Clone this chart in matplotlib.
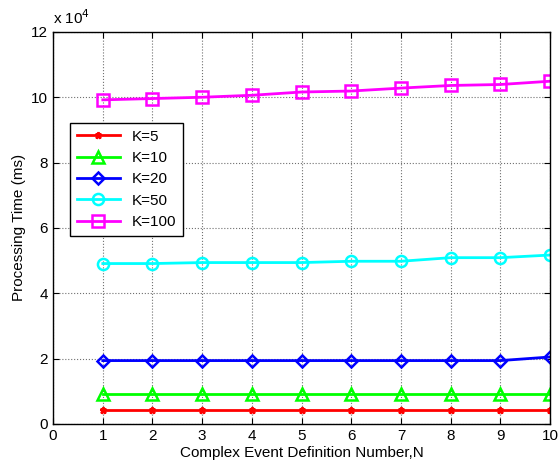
import matplotlib.pyplot as plt
from matplotlib.ticker import FuncFormatter

plt.rcParams['font.family'] = ['Liberation Sans', 'DejaVu Sans']

n = [1, 2, 3, 4, 5, 6, 7, 8, 9, 10]

# processing time (ms) for each K
k5 = [4200, 4200, 4200, 4200, 4200, 4200, 4200, 4200, 4200, 4200]
k10 = [9200, 9200, 9200, 9200, 9200, 9200, 9200, 9200, 9200, 9200]
k20 = [19400, 19400, 19400, 19400, 19400, 19400, 19400, 19400, 19400, 20500]
k50 = [49100, 49100, 49400, 49400, 49400, 49800, 49800, 50900, 50900, 51700]
k100 = [99200, 99600, 100000, 100600, 101600, 101900, 102800, 103600, 103900, 104900]

series = [
    ("K=5", k5, "red", "*"),
    ("K=10", k10, "lime", "^"),
    ("K=20", k20, "blue", "D"),
    ("K=50", k50, "cyan", "o"),
    ("K=100", k100, "magenta", "s"),
]

fig = plt.figure(figsize=(5.59, 4.69), dpi=100)
ax = fig.add_axes([0.095, 0.096, 0.889, 0.836])

for label, vals, color, mk in series:
    ms = 5 if mk == "*" else (6 if mk == "D" else 8)
    ax.plot(n, vals, color=color, marker=mk, markersize=ms, linewidth=2,
            markerfacecolor="none", markeredgewidth=1.8, label=label)

ax.set_xlim(0, 10)
ax.set_ylim(0, 120000)
ax.set_xticks(range(0, 11))
ax.set_yticks(range(0, 120001, 20000))
ax.yaxis.set_major_formatter(FuncFormatter(lambda v, p: f"{v/1e4:g}"))
ax.text(0.0, 1.012, r"x 10$^{4}$", transform=ax.transAxes, fontsize=11,
        ha="left", va="bottom")

ax.grid(True, color="#707070", linestyle=":", linewidth=0.8)
ax.tick_params(direction="in", labelsize=11, length=4, top=True, right=True)
for s in ax.spines.values():
    s.set_linewidth(1.0)

ax.set_xlabel("Complex Event Definition Number,N", fontsize=11, labelpad=2)
ax.set_ylabel("Processing Time (ms)", fontsize=11)

leg = ax.legend(loc="upper left", bbox_to_anchor=(0.034, 0.768), fontsize=11,
                fancybox=False, framealpha=1, edgecolor="black",
                borderaxespad=0, handlelength=2.8, borderpad=0.45,
                labelspacing=0.48)
leg.get_frame().set_linewidth(1.0)

fig.savefig("out.png", dpi=100)
